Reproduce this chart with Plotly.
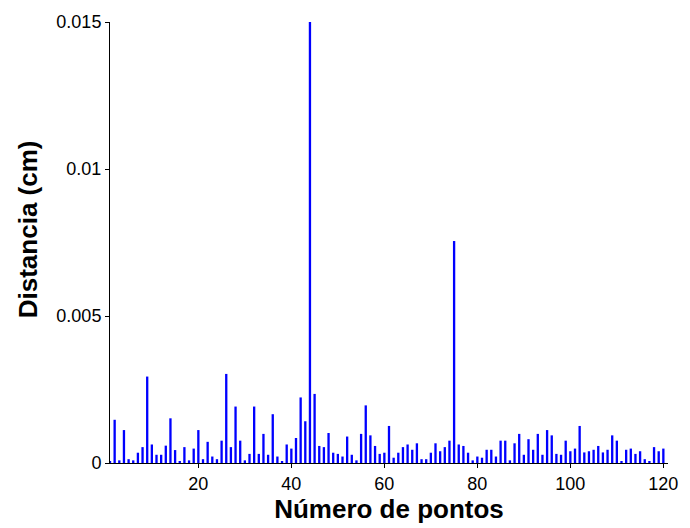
import plotly.graph_objects as go

# Distance per point (cm), points 1..120
pontos = list(range(1, 121))
distancia = [
    0.00007, 0.00147, 0.00009, 0.00112, 0.00013, 0.00009, 0.00035, 0.00054, 0.00294, 0.00063,
    0.00028, 0.00028, 0.00059, 0.00152, 0.00044, 0.00005, 0.00054, 0.00009, 0.00049, 0.00112,
    0.00013, 0.00072, 0.00022, 0.00013, 0.00076, 0.00303, 0.00054, 0.00192, 0.00076, 0.00009,
    0.00031, 0.00192, 0.00031, 0.00099, 0.00028, 0.00166, 0.00022, 0.00005, 0.00063, 0.00049,
    0.00085, 0.00223, 0.00142, 0.01500, 0.00235, 0.00058, 0.00054, 0.00102, 0.00035, 0.00031,
    0.00022, 0.00090, 0.00028, 0.00009, 0.00099, 0.00196, 0.00094, 0.00058, 0.00031, 0.00035,
    0.00126, 0.00018, 0.00035, 0.00054, 0.00063, 0.00045, 0.00067, 0.00013, 0.00013, 0.00035,
    0.00067, 0.00040, 0.00054, 0.00076, 0.00755, 0.00063, 0.00058, 0.00035, 0.00009, 0.00022,
    0.00018, 0.00045, 0.00045, 0.00022, 0.00076, 0.00076, 0.00009, 0.00067, 0.00099, 0.00028,
    0.00081, 0.00045, 0.00099, 0.00028, 0.00112, 0.00094, 0.00031, 0.00028, 0.00076, 0.00040,
    0.00049, 0.00126, 0.00036, 0.00040, 0.00045, 0.00058, 0.00036, 0.00045, 0.00094, 0.00076,
    0.00005, 0.00045, 0.00049, 0.00031, 0.00040, 0.00013, 0.00005, 0.00054, 0.00040, 0.00049,
]

x_ticks = [20, 40, 60, 80, 100, 120]
y_ticks = [0, 0.005, 0.01, 0.015]
y_tick_labels = ["0", "0.005", "0.01", "0.015"]

FONT = "Liberation Sans, Arial, sans-serif"

fig = go.Figure(
    go.Bar(
        x=pontos,
        y=distancia,
        width=0.5,
        marker=dict(color="#0000FF", line=dict(width=0)),
    )
)

fig.update_layout(
    width=690,
    height=528,
    margin=dict(l=110, r=14, t=22, b=60),
    paper_bgcolor="white",
    plot_bgcolor="white",
    showlegend=False,
    font=dict(family=FONT, color="black", size=18),
)

fig.update_xaxes(
    range=[1, 121],
    tickvals=x_ticks,
    ticks="outside",
    ticklen=4,
    tickcolor="black",
    showline=True,
    linecolor="black",
    linewidth=1,
    showgrid=False,
    zeroline=False,
    tickfont=dict(size=18),
    title=dict(text="<b>Número de pontos</b>", font=dict(size=26), standoff=4),
)

fig.update_yaxes(
    range=[0, 0.015],
    tickvals=y_ticks,
    ticktext=y_tick_labels,
    ticks="outside",
    ticklen=4,
    tickcolor="black",
    showline=True,
    linecolor="black",
    linewidth=1,
    showgrid=False,
    zeroline=False,
    tickfont=dict(size=18),
)

# y-axis title placed as a rotated annotation
fig.add_annotation(
    text="<b>Distancia (cm)</b>",
    xref="paper", yref="paper",
    x=-0.148, y=0.531,
    xanchor="center", yanchor="middle",
    textangle=-90,
    showarrow=False,
    font=dict(size=26, family=FONT, color="black"),
)

fig.write_html("out.html")
